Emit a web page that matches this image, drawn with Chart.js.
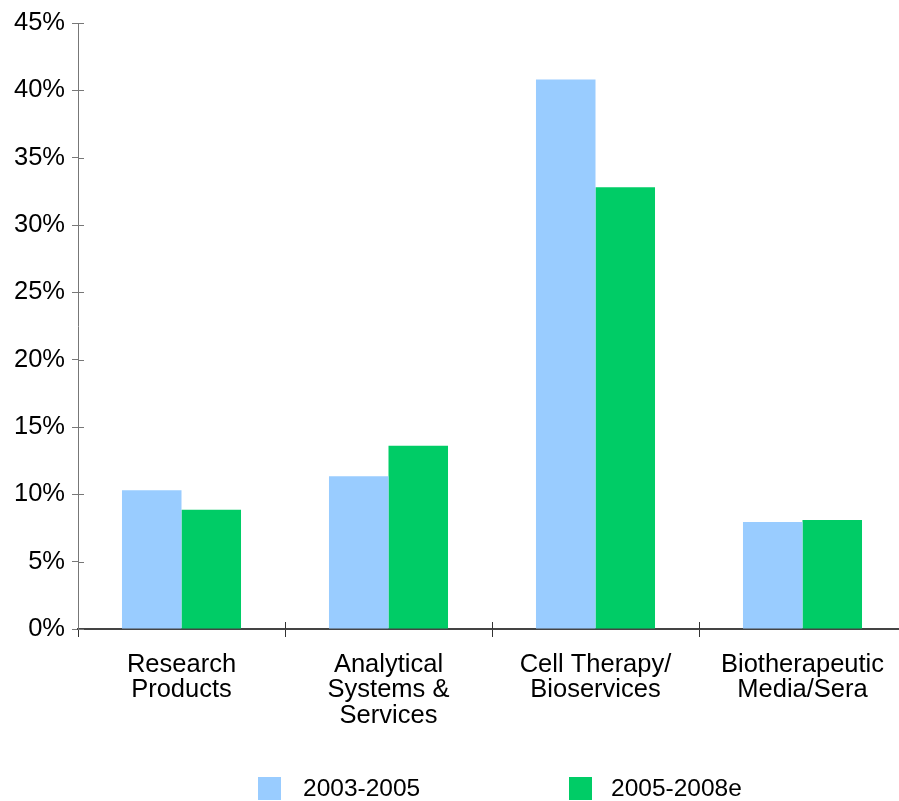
<!DOCTYPE html>
<html>
<head>
<meta charset="utf-8">
<script src="https://cdn.jsdelivr.net/npm/chart.js@4.4.1/dist/chart.umd.min.js"></script>
<style>
  html, body { margin: 0; padding: 0; background: #fff; overflow: hidden; }
  #wrap { position: relative; width: 906px; height: 801px; }
</style>
</head>
<body>
<div id="wrap"><canvas id="c"></canvas></div>
<script>
const categories = [
  ['Research', 'Products'],
  ['Analytical', 'Systems &', 'Services'],
  ['Cell Therapy/', 'Bioservices'],
  ['Biotherapeutic', 'Media/Sera']
];
const seriesNames = ['2003-2005', '2005-2008e'];
const values2003_2005 = [10.3, 11.35, 40.8, 7.95];
const values2005_2008e = [8.85, 13.6, 32.8, 8.1];
const yTickLabels = ['0%', '5%', '10%', '15%', '20%', '25%', '30%', '35%', '40%', '45%'];

const FONT = "'Liberation Sans', Arial, Helvetica, sans-serif";
const colors = ['#99CCFF', '#00CC66'];

// Cross-tick marks extending into the plot area, and a custom-positioned legend
const extrasPlugin = {
  id: 'extras',
  afterDraw(chart) {
    const ctx = chart.ctx;
    const ca = chart.chartArea;
    const xs = chart.scales.x, ys = chart.scales.y;
    ctx.save();
    ctx.strokeStyle = '#777';
    ctx.lineWidth = 1;
    ys.ticks.forEach(t => {
      const y = Math.round(ys.getPixelForValue(t.value)) + 0.5;
      ctx.beginPath(); ctx.moveTo(ca.left, y); ctx.lineTo(ca.left + 6, y); ctx.stroke();
    });
    ctx.strokeStyle = '#333';
    for (let i = 1; i < xs.ticks.length; i++) {
      const x = Math.round((xs.getPixelForTick(i - 1) + xs.getPixelForTick(i)) / 2) + 0.5;
      ctx.beginPath(); ctx.moveTo(x, ca.bottom - 7); ctx.lineTo(x, ca.bottom); ctx.stroke();
    }
    // legend
    const W = 899;
    const itemX = [W * 0.287, W * 0.633];
    const textGap = [22, 19];
    const boxTop = 777, box = 23;
    ctx.font = '24.5px ' + FONT;
    ctx.textBaseline = 'middle';
    ctx.textAlign = 'left';
    chart.data.datasets.forEach((ds, i) => {
      ctx.fillStyle = ds.backgroundColor;
      ctx.fillRect(Math.round(itemX[i]), boxTop, box, box);
      ctx.fillStyle = '#000';
      ctx.fillText(ds.label, Math.round(itemX[i]) + box + textGap[i], boxTop + box / 2 + 1);
    });
    ctx.restore();
  }
};

new Chart(document.getElementById('c'), {
  type: 'bar',
  data: {
    labels: categories,
    datasets: [
      { label: seriesNames[0], data: values2003_2005, backgroundColor: colors[0] },
      { label: seriesNames[1], data: values2005_2008e, backgroundColor: colors[1] }
    ]
  },
  options: {
    responsive: true,
    maintainAspectRatio: false,
    animation: false,
    layout: { padding: { top: 23, left: 0, right: 0, bottom: 72 } },
    datasets: { bar: { categoryPercentage: 0.575, barPercentage: 1.0, borderWidth: 0 } },
    plugins: {
      legend: { display: false },
      tooltip: { enabled: false },
      title: { display: false }
    },
    scales: {
      x: {
        offset: true,
        grid: {
          offset: true,
          drawOnChartArea: false,
          drawTicks: true,
          tickLength: 8,
          color: '#333',
          lineWidth: 1
        },
        border: { display: true, color: '#444', width: 2 },
        ticks: {
          color: '#000',
          padding: 15,
          maxRotation: 0,
          autoSkip: false,
          font: { family: FONT, size: 25.5, lineHeight: 1.0 }
        },
        afterFit(scale) { scale.height = 100; }
      },
      y: {
        min: 0,
        max: 45,
        grid: {
          drawOnChartArea: false,
          drawTicks: true,
          tickLength: 6,
          color: '#777',
          lineWidth: 1
        },
        border: { display: true, color: '#777', width: 1 },
        ticks: {
          stepSize: 5,
          color: '#000',
          padding: 7,
          font: { family: FONT, size: 25.5 },
          callback: (v, i) => yTickLabels[i]
        },
        afterFit(scale) { scale.width = 78; }
      }
    }
  },
  plugins: [extrasPlugin]
});
</script>
</body>
</html>
